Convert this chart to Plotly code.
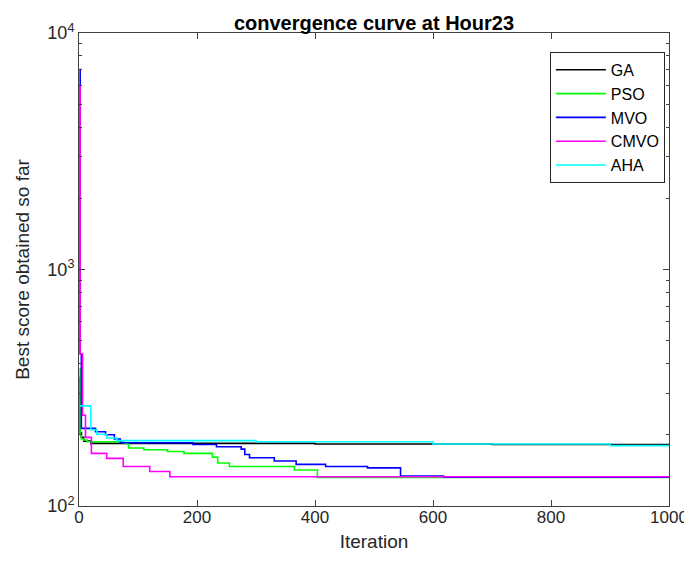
import plotly.graph_objects as go

# Step breakpoints (iteration, best score)
ga_iter = [1, 2, 4, 8, 20, 400, 700, 1000]
ga_val = [350, 204, 195, 188, 184, 183, 182, 182]

pso_iter = [1, 2, 4, 8, 14, 76, 84, 110, 150, 178, 226, 235, 255, 365, 404, 1000]
pso_val = [380, 200, 192, 190, 187, 184, 176, 173, 170, 167, 161, 152, 147, 142, 132, 132]

mvo_iter = [1, 2, 4, 28, 45, 60, 70, 193, 233, 275, 281, 289, 331, 368, 418, 489, 545, 618, 1000]
mvo_val = [7000, 440, 213, 206, 200, 192, 185, 182, 178, 174, 165, 160, 155, 150, 147, 145, 134, 132.5, 132]

cmvo_iter = [1, 2, 6, 11, 21, 47, 75, 120, 154, 1000]
cmvo_val = [6000, 440, 242, 195, 167, 159, 147, 140, 133, 132]

aha_iter = [1, 20, 30, 47, 64, 300, 600, 900, 1000]
aha_val = [265, 210, 201, 194, 189, 187, 183, 180, 179]

names = ["GA", "PSO", "MVO", "CMVO", "AHA"]
colors = ["#000000", "#00ff00", "#0000ff", "#ff00ff", "#00ffff"]
series = [(ga_iter, ga_val), (pso_iter, pso_val), (mvo_iter, mvo_val),
          (cmvo_iter, cmvo_val), (aha_iter, aha_val)]

FONT = "Liberation Sans, Arial, sans-serif"

fig = go.Figure()
for (xs, ys), n, c in zip(series, names, colors):
    fig.add_trace(go.Scatter(x=xs, y=ys, mode="lines", name=n,
                             line=dict(color=c, width=1.6, shape="hv")))

minor_y = [v * m for m in (100, 1000) for v in range(2, 10)]

fig.update_layout(
    width=692, height=561,
    margin=dict(l=71, r=29, t=25, b=63),
    paper_bgcolor="white", plot_bgcolor="white",
    font=dict(family=FONT, size=16, color="#262626"),
    title=dict(text="<b>convergence curve at Hour23</b>", x=0.5, xanchor="center",
               xref="paper", y=0.973, yanchor="middle",
               font=dict(family=FONT, size=20, color="#000000")),
    showlegend=True,
    legend=dict(x=0.993, y=0.96, xanchor="right", yanchor="top",
                bgcolor="white", bordercolor="#262626", borderwidth=1,
                font=dict(family=FONT, size=16, color="#000000"),
                itemwidth=50, tracegroupgap=0),
)

fig.update_xaxes(range=[0, 1000], tickvals=[0, 200, 400, 600, 800, 1000],
                 ticks="inside", ticklen=6, tickcolor="#404040",
                 showline=True, linecolor="#404040", linewidth=1, mirror="ticks",
                 showgrid=False, zeroline=False, ticklabelstandoff=-4,
                 title=dict(text="Iteration", font=dict(size=19), standoff=8),
                 tickfont=dict(size=17))

fig.update_yaxes(type="log", range=[2, 4], tickvals=[100, 1000, 10000],
                 ticktext=["10<sup>2</sup>", "10<sup>3</sup>", "10<sup>4</sup>"],
                 ticks="inside", ticklen=6, tickcolor="#404040",
                 minor=dict(tickvals=minor_y, ticks="inside", ticklen=3, tickcolor="#404040"),
                 showline=True, linecolor="#404040", linewidth=1, mirror="ticks",
                 showgrid=False, zeroline=False,
                 title=dict(text="Best score obtained so far", font=dict(size=19), standoff=12),
                 tickfont=dict(size=18))

fig.write_html("out.html")
